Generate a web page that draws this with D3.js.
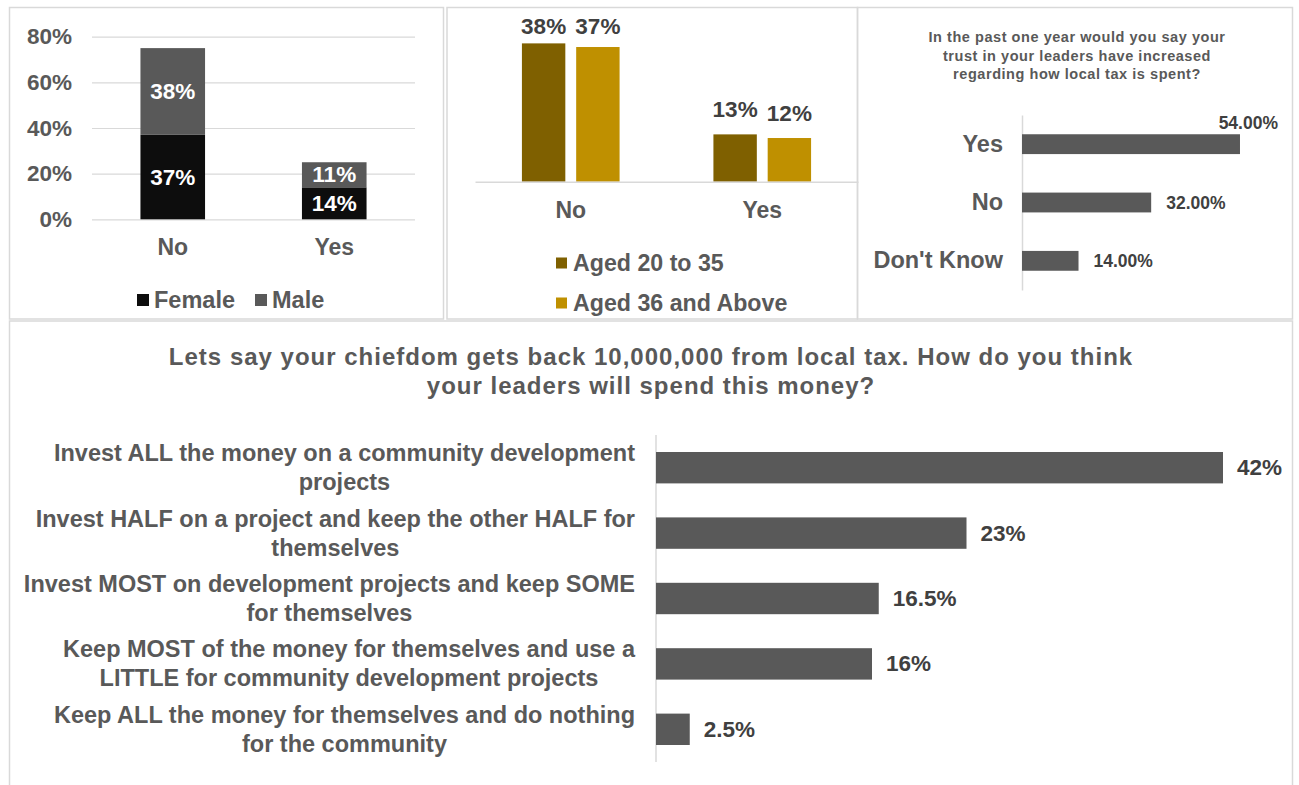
<!DOCTYPE html>
<html>
<head>
<meta charset="utf-8">
<script src="https://cdn.jsdelivr.net/npm/d3@7"></script>
<style>
  html, body { margin: 0; padding: 0; background: #fff; }
  svg { display: block; font-family: "Liberation Sans", Arial, sans-serif; font-weight: bold; }
</style>
</head>
<body>
<svg id="chart" width="1299" height="785"></svg>
<script>
// ---- Data ----
const genderCats = ["No", "Yes"];
const genderSeries = ["Female", "Male"];
const femaleVals = [37, 14];
const maleVals = [38, 11];
const genderTicks = [0, 20, 40, 60, 80];

const ageCats = ["No", "Yes"];
const ageSeries = ["Aged 20 to 35", "Aged 36 and Above"];
const aged20to35 = [38, 13];
const aged36up = [37, 12];

const trustTitle = [
  "In the past one year would you say your",
  "trust in your leaders have increased",
  "regarding how local tax is spent?"
];
const trustCats = ["Yes", "No", "Don't Know"];
const trustVals = [54, 32, 14];

const spendTitle = [
  "Lets say your chiefdom gets back 10,000,000 from local tax. How do you think",
  "your leaders will spend this money?"
];
const spendCats = [
  ["Invest ALL the money on a community development", "projects"],
  ["Invest HALF on a project and keep the other HALF for", "themselves"],
  ["Invest MOST on development projects and keep SOME", "for themselves"],
  ["Keep MOST of the money for themselves and use a", "LITTLE for community development projects"],
  ["Keep ALL the money for themselves and do nothing", "for the community"]
];
const spendVals = [42, 23, 16.5, 16, 2.5];

// ---- Styles ----
const AXIS_TEXT = "#595959";
const DATA_TEXT = "#404040";
const GRID = "#d9d9d9";
const BORDER = "#d9d9d9";
const C_FEMALE = "#0d0d0d";
const C_MALE = "#595959";
const C_YOUNG = "#7f6000";
const C_OLD = "#bf9000";
const C_BAR = "#595959";

const svg = d3.select("#chart");

// Panel frames
const frames = [
  [9.5, 7.5, 434, 311.5],
  [447, 7.5, 410.5, 311.5],
  [857.5, 7.5, 435, 311.5],
  [9.5, 321, 1283, 480]
];
svg.append("g").selectAll("rect").data(frames).join("rect")
  .attr("x", d => d[0]).attr("y", d => d[1])
  .attr("width", d => d[2]).attr("height", d => d[3])
  .attr("fill", "none").attr("stroke", BORDER).attr("stroke-width", 1.5);

const pct = d => d + "%";

// ---- Panel 1: stacked columns by gender ----
{
  const g = svg.append("g");
  const x = d3.scaleBand().domain(genderCats).range([92, 415]).paddingInner(0.6).paddingOuter(0.3);
  const y = d3.scaleLinear().domain([0, 80]).range([219.3, 36.7]);

  const yAxis = g.append("g").attr("transform", "translate(92,0)")
    .call(d3.axisLeft(y).tickValues(genderTicks).tickFormat(pct).tickSize(-(415 - 92)).tickPadding(20));
  yAxis.select(".domain").remove();
  yAxis.selectAll("line").attr("stroke", GRID).attr("stroke-width", 1.2);
  yAxis.selectAll("text").attr("fill", AXIS_TEXT).attr("font-size", 22.5).attr("font-family", null);

  const stack = genderCats.map((c, i) => ({ cat: c, parts: [
    { key: "Female", y0: 0, y1: femaleVals[i], color: C_FEMALE },
    { key: "Male", y0: femaleVals[i], y1: femaleVals[i] + maleVals[i], color: C_MALE }
  ]}));
  const cols = g.selectAll(".col").data(stack).join("g").attr("class", "col");
  cols.selectAll("rect").data(d => d.parts.map(p => ({ ...p, cat: d.cat }))).join("rect")
    .attr("x", d => x(d.cat)).attr("width", x.bandwidth())
    .attr("y", d => y(d.y1)).attr("height", d => y(d.y0) - y(d.y1))
    .attr("fill", d => d.color);
  cols.selectAll("text").data(d => d.parts.map(p => ({ ...p, cat: d.cat }))).join("text")
    .attr("x", d => x(d.cat) + x.bandwidth() / 2)
    .attr("y", d => (y(d.y0) + y(d.y1)) / 2)
    .attr("text-anchor", "middle").attr("dominant-baseline", "central")
    .attr("fill", "#fff").attr("font-size", 22.5)
    .text(d => pct(d.y1 - d.y0));

  const xAxis = g.append("g").attr("transform", "translate(0,219.3)")
    .call(d3.axisBottom(x).tickSize(0).tickPadding(19));
  xAxis.select(".domain").remove();
  xAxis.selectAll("text").attr("fill", AXIS_TEXT).attr("font-size", 23).attr("font-family", null);

  const leg = g.selectAll(".leg").data(genderSeries).join("g").attr("class", "leg")
    .attr("transform", (d, i) => `translate(${[137, 255][i]},300)`);
  leg.append("rect").attr("x", 0).attr("y", -6).attr("width", 12).attr("height", 12)
    .attr("fill", (d, i) => [C_FEMALE, C_MALE][i]);
  leg.append("text").attr("x", 17).attr("dominant-baseline", "central")
    .attr("fill", AXIS_TEXT).attr("font-size", 23.5).text(d => d);
}

// ---- Panel 2: clustered columns by age group ----
{
  const g = svg.append("g");
  const x0 = d3.scaleBand().domain(ageCats).range([475, 858]).paddingInner(0.49).paddingOuter(0.245);
  const x1 = d3.scaleBand().domain(ageSeries).range([0, x0.bandwidth()]).paddingInner(0.2);
  const y = d3.scaleLinear().domain([0, 50]).range([181.7, -0.3]);
  const colors = [C_YOUNG, C_OLD];

  const rows = ageCats.map((c, i) => ({ cat: c, vals: [
    { key: ageSeries[0], v: aged20to35[i], color: colors[0] },
    { key: ageSeries[1], v: aged36up[i], color: colors[1] }
  ]}));
  const grp = g.selectAll(".grp").data(rows).join("g").attr("class", "grp")
    .attr("transform", d => `translate(${x0(d.cat)},0)`);
  grp.selectAll("rect").data(d => d.vals).join("rect")
    .attr("x", d => x1(d.key)).attr("width", x1.bandwidth())
    .attr("y", d => y(d.v)).attr("height", d => y(0) - y(d.v))
    .attr("fill", d => d.color);
  grp.selectAll("text").data(d => d.vals).join("text")
    .attr("x", d => x1(d.key) + x1.bandwidth() / 2)
    .attr("y", d => Math.max(y(d.v) - 25, 26))
    .attr("text-anchor", "middle").attr("dominant-baseline", "central")
    .attr("fill", DATA_TEXT).attr("font-size", 22.5)
    .text(d => pct(d.v));

  const xAxis = g.append("g").attr("transform", "translate(0,181.7)")
    .call(d3.axisBottom(x0).tickSize(0).tickPadding(20));
  xAxis.select(".domain").attr("stroke", GRID).attr("stroke-width", 1.5);
  xAxis.selectAll("text").attr("fill", AXIS_TEXT).attr("font-size", 23).attr("font-family", null);

  const leg = g.selectAll(".leg").data(ageSeries).join("g").attr("class", "leg")
    .attr("transform", (d, i) => `translate(556,${263 + i * 40})`);
  leg.append("rect").attr("x", 0).attr("y", -5.5).attr("width", 11).attr("height", 11)
    .attr("fill", (d, i) => colors[i]);
  leg.append("text").attr("x", 17).attr("dominant-baseline", "central")
    .attr("fill", AXIS_TEXT).attr("font-size", 23.2).text(d => d);
}

// ---- Panel 3: trust in leaders ----
{
  const g = svg.append("g");
  g.selectAll(".title").data(trustTitle).join("text")
    .attr("x", 1077).attr("y", (d, i) => 37 + i * 18.5)
    .attr("text-anchor", "middle").attr("dominant-baseline", "central")
    .attr("fill", AXIS_TEXT).attr("font-size", 14.5).attr("letter-spacing", 0.55)
    .text(d => d);

  const x = d3.scaleLinear().domain([0, 60]).range([1022, 1264.2]);
  const y = d3.scaleBand().domain(trustCats).range([115, 290]).paddingInner(0.66).paddingOuter(0.33);

  const yAxis = g.append("g").attr("transform", "translate(1022,0)")
    .call(d3.axisLeft(y).tickSize(0).tickPadding(19));
  yAxis.select(".domain").attr("stroke", GRID).attr("stroke-width", 1.5);
  yAxis.selectAll("text").attr("fill", AXIS_TEXT).attr("font-size", 23.5).attr("font-family", null);

  g.selectAll(".bar").data(trustCats).join("rect").attr("class", "bar")
    .attr("x", x(0)).attr("y", d => y(d))
    .attr("width", (d, i) => x(trustVals[i]) - x(0)).attr("height", y.bandwidth())
    .attr("fill", C_BAR);

  const limit = 1280;
  const labels = g.selectAll(".val").data(trustCats).join("text").attr("class", "val")
    .attr("fill", DATA_TEXT).attr("font-size", 17.5)
    .attr("dominant-baseline", "central")
    .text((d, i) => trustVals[i].toFixed(2) + "%");
  labels.each(function(d, i) {
    const t = d3.select(this);
    const w = this.getComputedTextLength();
    const x0 = x(trustVals[i]) + 15;
    if (x0 + w > limit) {
      t.attr("x", limit - 2).attr("text-anchor", "end").attr("y", y(d) - 11);
    } else {
      t.attr("x", x0).attr("text-anchor", "start").attr("y", y(d) + y.bandwidth() / 2);
    }
  });
}

// ---- Panel 4: how leaders will spend the money ----
{
  const g = svg.append("g");
  g.selectAll(".title").data(spendTitle).join("text")
    .attr("x", 651).attr("y", (d, i) => 356 + i * 29)
    .attr("text-anchor", "middle").attr("dominant-baseline", "central")
    .attr("fill", AXIS_TEXT).attr("font-size", 24).attr("letter-spacing", 1)
    .text(d => d);

  const x = d3.scaleLinear().domain([0, 45]).range([656, 1263.5]);
  const idx = spendCats.map((d, i) => i);
  const y = d3.scaleBand().domain(idx).range([435, 762]).paddingInner(0.52).paddingOuter(0.26);

  g.append("line").attr("x1", x(0)).attr("x2", x(0)).attr("y1", 435).attr("y2", 762)
    .attr("stroke", GRID).attr("stroke-width", 1.5);

  g.selectAll(".bar").data(idx).join("rect").attr("class", "bar")
    .attr("x", x(0)).attr("y", i => y(i))
    .attr("width", i => x(spendVals[i]) - x(0)).attr("height", y.bandwidth())
    .attr("fill", C_BAR);

  g.selectAll(".val").data(idx).join("text").attr("class", "val")
    .attr("x", i => x(spendVals[i]) + 14).attr("y", i => y(i) + y.bandwidth() / 2)
    .attr("dominant-baseline", "central")
    .attr("fill", DATA_TEXT).attr("font-size", 22.5)
    .text(i => pct(spendVals[i]));

  // Two-line category labels: block right-aligned to the axis, lines centred within it
  const right = 635;
  idx.forEach(i => {
    const cy = y(i) + y.bandwidth() / 2;
    const lbl = g.append("g");
    const lines = lbl.selectAll("text").data(spendCats[i]).join("text")
      .attr("y", (d, k) => cy + (k - 0.5) * 29)
      .attr("text-anchor", "middle").attr("dominant-baseline", "central")
      .attr("fill", AXIS_TEXT).attr("font-size", 23.5).text(d => d);
    let maxW = 0;
    lines.each(function() { maxW = Math.max(maxW, this.getComputedTextLength()); });
    lines.attr("x", right - maxW / 2);
  });
}
</script>
</body>
</html>
